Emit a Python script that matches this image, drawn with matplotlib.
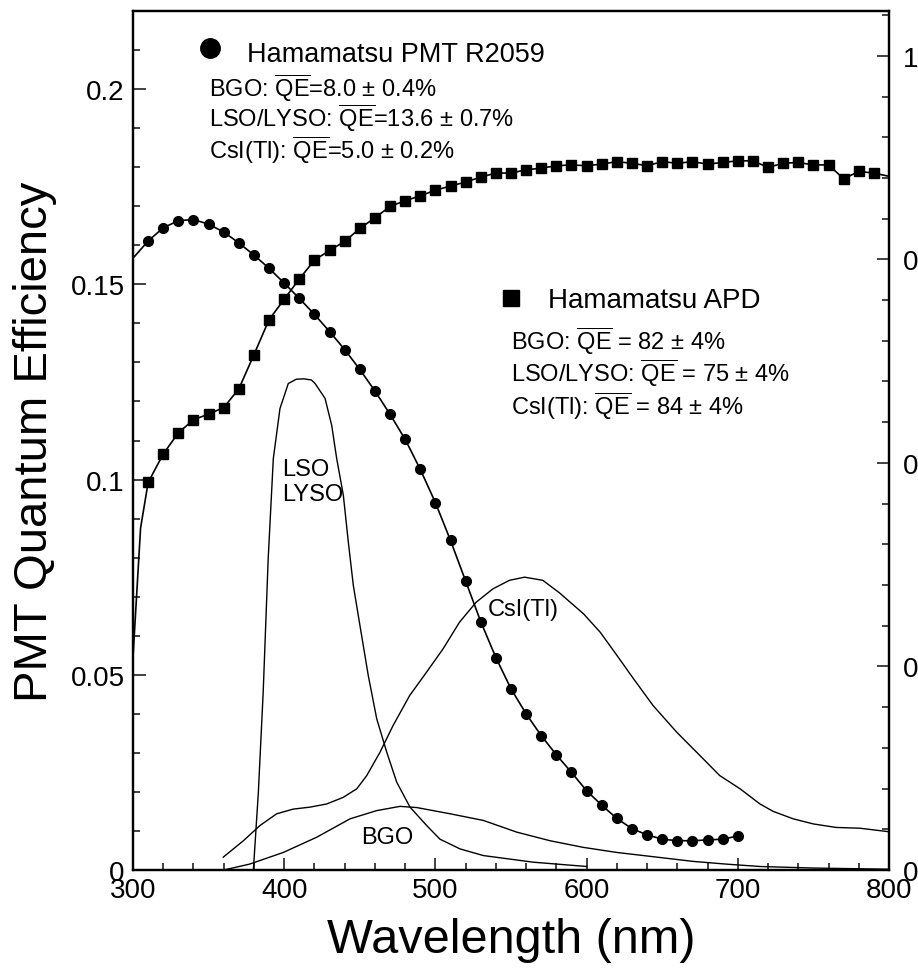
import matplotlib
matplotlib.use("Agg")
import matplotlib.pyplot as plt
from matplotlib.ticker import MultipleLocator, FuncFormatter

plt.rcParams['font.family'] = ['Liberation Sans', 'DejaVu Sans']
plt.rcParams['mathtext.fontset'] = 'custom'
plt.rcParams['mathtext.rm'] = 'Liberation Sans'
plt.rcParams['mathtext.it'] = 'Liberation Sans:italic'

# Hamamatsu PMT R2059 quantum efficiency (left axis)
pmt_wl = [300, 310, 320, 330, 340, 350, 360, 370, 380, 390, 400, 410, 420, 430,
          440, 450, 460, 470, 480, 490, 500, 510, 520, 530, 540, 550, 560, 570,
          580, 590, 600, 610, 620, 630, 640, 650, 660, 670, 680, 690, 700]
pmt_qe = [0.1567, 0.1611, 0.1645, 0.1663, 0.1666, 0.1654, 0.1634, 0.1606, 0.1575,
          0.1541, 0.1503, 0.1464, 0.1423, 0.1379, 0.1333, 0.1282, 0.1227, 0.1167,
          0.1103, 0.1026, 0.0941, 0.0844, 0.0740, 0.0636, 0.0544, 0.0464, 0.0400,
          0.0344, 0.0295, 0.0250, 0.0203, 0.0166, 0.0132, 0.0106, 0.0090, 0.0079,
          0.0075, 0.0075, 0.0077, 0.0079, 0.0087]

# Hamamatsu APD quantum efficiency (right axis)
apd_wl = [300, 305, 310, 320, 330, 340, 350, 360, 370, 380, 390, 400, 410, 420,
          430, 440, 450, 460, 470, 480, 490, 500, 510, 520, 530, 540, 550, 560,
          570, 580, 590, 600, 610, 620, 630, 640, 650, 660, 670, 680, 690, 700,
          710, 720, 730, 740, 750, 760, 770, 780, 790, 800]
apd_qe = [0.262, 0.420, 0.476, 0.511, 0.537, 0.553, 0.560, 0.568, 0.591, 0.633,
          0.676, 0.701, 0.726, 0.749, 0.761, 0.772, 0.788, 0.801, 0.815, 0.822,
          0.828, 0.835, 0.840, 0.845, 0.851, 0.856, 0.856, 0.860, 0.862, 0.865,
          0.866, 0.865, 0.867, 0.870, 0.868, 0.865, 0.870, 0.868, 0.870, 0.867,
          0.869, 0.871, 0.871, 0.863, 0.868, 0.869, 0.866, 0.866, 0.849, 0.858,
          0.856, 0.852]

# scintillator emission spectra (arbitrary units, drawn on the left scale)
lso_wl = [379.6, 382.9, 386.1, 389.4, 392.8, 397.2, 402.7, 408, 413, 418, 420.4,
          427, 431.4, 434.7, 439.1, 442.4, 445.7, 450.1, 455.6, 461.2, 467.8,
          474.4, 483.2, 494.2, 503, 516.3, 531.7, 564.8, 600]
lso_em = [0.0, 0.0199, 0.0456, 0.0797, 0.1054, 0.1182, 0.1246, 0.1257, 0.1258,
          0.1255, 0.1246, 0.1208, 0.1139, 0.1054, 0.0960, 0.0840, 0.0729, 0.0626,
          0.0498, 0.0387, 0.0302, 0.0225, 0.0161, 0.0114, 0.0079, 0.0054, 0.0037,
          0.0020, 0.0009]

csi_wl = [359.7, 373, 384, 395, 406, 417, 428, 439, 448, 454.6, 463.4, 472, 483,
          494, 505, 516, 527, 538, 549, 559, 571, 582, 598, 609, 620, 631, 644,
          659.6, 675, 688, 701.5, 714.7, 723.5, 736.7, 750, 765, 780.8, 800]
csi_em = [0.0033, 0.0075, 0.0114, 0.0144, 0.0156, 0.0161, 0.0169, 0.0186, 0.0208,
          0.0242, 0.0302, 0.0370, 0.0447, 0.0506, 0.0566, 0.0635, 0.0686, 0.0720,
          0.0742, 0.0750, 0.0742, 0.0710, 0.0656, 0.0609, 0.0550, 0.0490, 0.0421,
          0.0353, 0.0293, 0.0242, 0.0208, 0.0169, 0.0150, 0.0131, 0.0118, 0.0109,
          0.0107, 0.0098]

bgo_wl = [360, 377, 399.4, 421.5, 443.5, 461, 476.6, 487.6, 509.7, 531.7, 553.8,
          575.8, 597.8, 619.9, 642, 670.6, 692.7, 714.7, 750, 800]
bgo_em = [0.0, 0.0015, 0.0045, 0.0084, 0.0131, 0.0152, 0.0163, 0.0160, 0.0144,
          0.0127, 0.0097, 0.0075, 0.0058, 0.0045, 0.0035, 0.0022, 0.0015, 0.0009,
          0.0005, 0.0002]

pmt_notes = [r'BGO: $\overline{\mathrm{QE}}$=8.0 ± 0.4%',
             r'LSO/LYSO: $\overline{\mathrm{QE}}$=13.6 ± 0.7%',
             r'CsI(Tl): $\overline{\mathrm{QE}}$=5.0 ± 0.2%']
apd_notes = [r'BGO: $\overline{\mathrm{QE}}$ = 82 ± 4%',
             r'LSO/LYSO: $\overline{\mathrm{QE}}$ = 75 ± 4%',
             r'CsI(Tl): $\overline{\mathrm{QE}}$ = 84 ± 4%']

fig = plt.figure(figsize=(9.18, 9.78), dpi=100)
ax = fig.add_axes([0.1449, 0.1094, 0.8235, 0.8783])
ax2 = ax.twinx()

lw = 1.2
ax.plot(lso_wl, lso_em, color='black', lw=1.0)
ax.plot(csi_wl, csi_em, color='black', lw=1.0)
ax.plot(bgo_wl, bgo_em, color='black', lw=1.0)
ax.plot(pmt_wl, pmt_qe, color='black', lw=lw, marker='o', markersize=7,
        markevery=list(range(1, len(pmt_wl))))
ax2.plot(apd_wl, apd_qe, color='black', lw=lw, marker='s', markersize=7,
         markevery=list(range(2, len(apd_wl) - 1)))

ax.set_xlim(300, 800)
ax.set_ylim(0, 0.22)
ax2.set_ylim(0, 1.055)

fmt = FuncFormatter(lambda v, p: '%g' % round(v, 4))
ax.xaxis.set_major_locator(MultipleLocator(100))
ax.xaxis.set_minor_locator(MultipleLocator(20))
ax.yaxis.set_major_locator(MultipleLocator(0.05))
ax.yaxis.set_minor_locator(MultipleLocator(0.01))
ax.yaxis.set_major_formatter(fmt)
ax2.yaxis.set_major_locator(MultipleLocator(0.25))
ax2.yaxis.set_minor_locator(MultipleLocator(0.05))
ax2.yaxis.set_major_formatter(fmt)

for a in (ax, ax2):
    a.tick_params(which='both', direction='in', width=1.3, labelsize=20,
                  color='#333333')
    a.tick_params(which='major', length=9)
    a.tick_params(which='minor', length=5)
    for s in a.spines.values():
        s.set_linewidth(1.6)
ax.tick_params(axis='x', pad=5, top=False)
ax.tick_params(axis='y', pad=6, right=False)
ax2.tick_params(axis='y', pad=10)

ax.set_xlabel('Wavelength (nm)', fontsize=35, labelpad=10)
ax.set_ylabel('PMT Quantum Efficiency', fontsize=34, labelpad=10)

# legend-style annotations
ax.plot([350.9], [0.2106], 'o', color='black', markersize=14)
ax.text(375.2, 0.2073, 'Hamamatsu PMT R2059', fontsize=19.5)
for i, t in enumerate(pmt_notes):
    ax.text(350.4, [0.1982, 0.1904, 0.1823][i], t, fontsize=17)

ax.plot([550.2], [0.1466], 's', color='black', markersize=12)
ax.text(574.5, 0.1443, 'Hamamatsu APD', fontsize=20)
for i, t in enumerate(apd_notes):
    ax.text(550.0, [0.1333, 0.1251, 0.1169][i], t, fontsize=17)

# curve labels
ax.text(398.3, 0.1028, 'LSO', fontsize=17, va='center')
ax.text(398.3, 0.0962, 'LYSO', fontsize=17, va='center')
ax.text(534.8, 0.0669, 'CsI(Tl)', fontsize=17, va='center')
ax.text(451.2, 0.0084, 'BGO', fontsize=17, va='center')

fig.savefig('out.png', dpi=100)
